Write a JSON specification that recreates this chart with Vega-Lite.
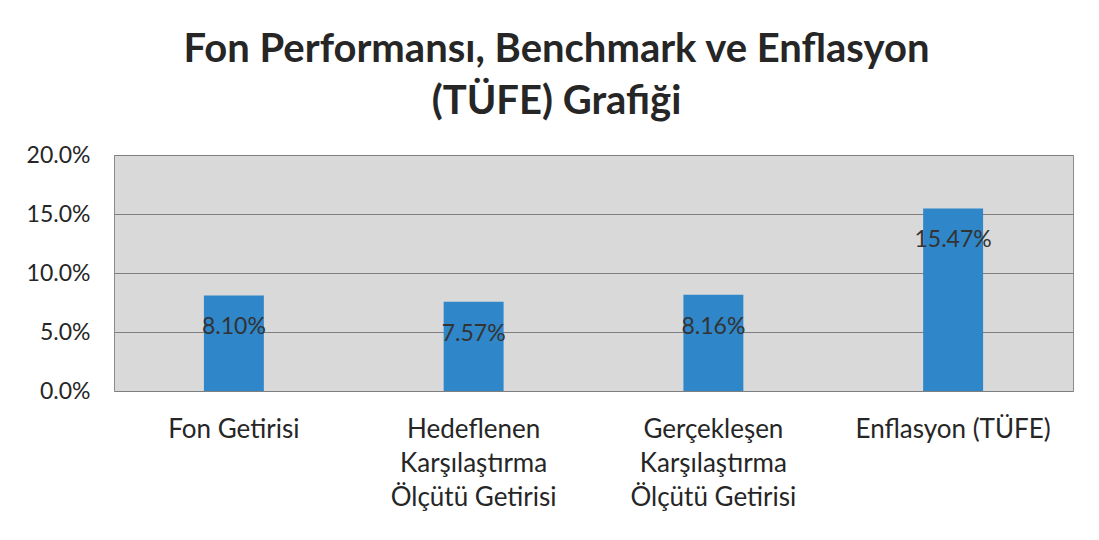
{
  "$schema": "https://vega.github.io/schema/vega-lite/v6.json",
  "autosize": {"type": "none"},
  "width": 959,
  "height": 236,
  "padding": {"left": 114, "top": 155, "right": 26, "bottom": 149},
  "background": "#ffffff",
  "title": {
    "text": ["Fon Performansı, Benchmark ve Enflasyon", "(TÜFE) Grafiği"],
    "font": "Lato",
    "fontSize": 40,
    "fontWeight": "bold",
    "color": "#262626",
    "lineHeight": 52,
    "anchor": "middle",
    "dx": -37,
    "offset": 22
  },
  "data": {
    "values": [
      {"kategori": "Fon Getirisi", "deger": 0.0810},
      {"kategori": "Hedeflenen|Karşılaştırma|Ölçütü Getirisi", "deger": 0.0757},
      {"kategori": "Gerçekleşen|Karşılaştırma|Ölçütü Getirisi", "deger": 0.0816},
      {"kategori": "Enflasyon (TÜFE)", "deger": 0.1547}
    ]
  },
  "encoding": {
    "x": {
      "field": "kategori",
      "type": "nominal",
      "sort": null,
      "scale": {"paddingInner": 0, "paddingOuter": 0},
      "axis": {
        "title": null,
        "labelAngle": 0,
        "labelExpr": "split(datum.label, '|')",
        "labelFont": "Lato",
        "labelFontSize": 26,
        "labelColor": "#262626",
        "labelLineHeight": 34,
        "labelBaseline": "top",
        "labelPadding": 25,
        "labelLimit": 0,
        "ticks": false,
        "domain": false,
        "grid": false
      }
    },
    "y": {
      "field": "deger",
      "type": "quantitative",
      "scale": {"domain": [0, 0.2], "nice": false},
      "axis": {
        "title": null,
        "values": [0, 0.05, 0.1, 0.15, 0.2],
        "format": ".1%",
        "labelFont": "Lato",
        "labelFontSize": 23,
        "labelColor": "#262626",
        "labelPadding": 24,
        "ticks": false,
        "domain": false,
        "grid": true,
        "gridColor": "#7f7f7f",
        "gridWidth": 1.2
      }
    }
  },
  "layer": [
    {
      "mark": {"type": "bar", "color": "#2f86c9", "width": {"band": 0.25}}
    },
    {
      "mark": {
        "type": "text",
        "baseline": "middle",
        "dy": 32,
        "font": "Lato",
        "fontSize": 23,
        "color": "#333333"
      },
      "encoding": {
        "text": {"field": "deger", "type": "quantitative", "format": ".2%"}
      }
    }
  ],
  "config": {
    "view": {"fill": "#d9d9d9", "stroke": "#8c8c8c", "strokeWidth": 1}
  }
}
